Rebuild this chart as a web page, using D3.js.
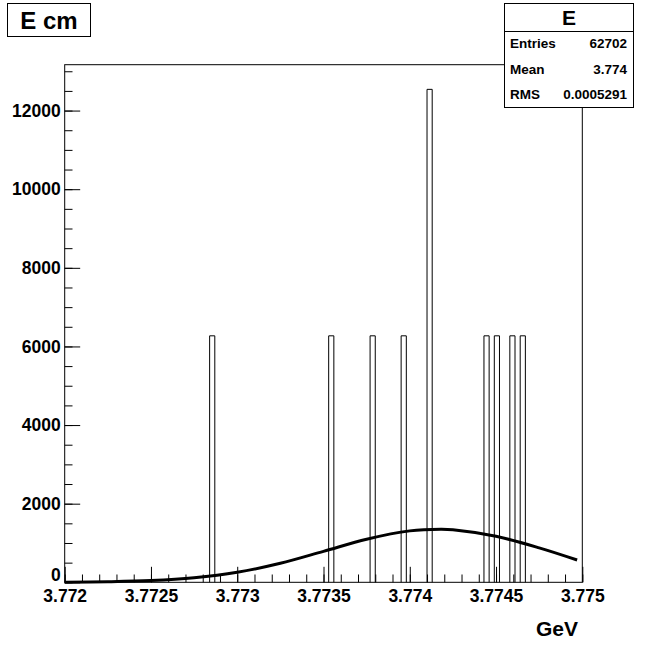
<!DOCTYPE html>
<html>
<head>
<meta charset="utf-8">
<script src="https://cdn.jsdelivr.net/npm/d3@7"></script>
<style>
  html, body { margin: 0; padding: 0; background: #fff; }
  svg { display: block; font-family: "Liberation Sans", Arial, Helvetica, sans-serif; font-weight: bold; }
</style>
</head>
<body>
<svg id="chart" width="647" height="647"></svg>
<script>
// ---- data ----
const binLeftEdges = [3.77284, 3.77353, 3.77377, 3.77395, 3.77410, 3.77443, 3.77449, 3.77458, 3.77464];
const binCounts    = [6270, 6270, 6270, 6270, 12540, 6270, 6270, 6270, 6270];
const binWidth = 0.00003;

const fitX = [3.772, 3.77225, 3.7725, 3.77275, 3.773, 3.77325, 3.7735, 3.77375, 3.774, 3.77418, 3.77425, 3.7745, 3.77475, 3.77497];
const fitY = [4, 15, 44, 115, 254, 483, 787, 1096, 1308, 1350, 1337, 1170, 877, 568];

const xTickValues = [3.772, 3.7725, 3.773, 3.7735, 3.774, 3.7745, 3.775];
const xTickLabels = ["3.772", "3.7725", "3.773", "3.7735", "3.774", "3.7745", "3.775"];
const yTickValues = [0, 2000, 4000, 6000, 8000, 10000, 12000];
const yTickLabels = ["0", "2000", "4000", "6000", "8000", "10000", "12000"];

const histTitle = "E cm";
const statsName = "E";
const statsLabels = ["Entries", "Mean", "RMS"];
const statsValues = ["62702", "3.774", "0.0005291"];
const xAxisTitle = "GeV";

// ---- layout ----
const svg = d3.select("#chart");
const L = 64.7, R = 582.3, T = 64.7, B = 582.3;
const xDomain = [3.772, 3.775];
const yMax = 1.05 * d3.max(binCounts);

const x = d3.scaleLinear().domain(xDomain).range([L, R]);
const y = d3.scaleLinear().domain([0, yMax]).range([B, T]);

// frame
svg.append("rect").attr("x", L).attr("y", T).attr("width", R - L).attr("height", B - T)
  .attr("fill", "none").attr("stroke", "#000").attr("stroke-width", 1);

// histogram bars (outline)
const g = svg.append("g");
binLeftEdges.forEach((e, i) => {
  const x0 = x(e), x1 = x(e + binWidth), y0 = y(0), y1 = y(binCounts[i]);
  g.append("path")
    .attr("d", `M${x0},${y0}V${y1}H${x1}V${y0}`)
    .attr("fill", "none").attr("stroke", "#000").attr("stroke-width", 1);
});

// fit curve
const line = d3.line().x(d => x(d[0])).y(d => y(d[1])).curve(d3.curveCatmullRom.alpha(0.5));
svg.append("path").datum(fitX.map((v, i) => [v, fitY[i]]))
  .attr("d", line).attr("fill", "none").attr("stroke", "#000").attr("stroke-width", 3);

const labelFont = 17.5;

// x axis
const xMinor = d3.range(0, 31).map(i => 3.772 + i * 0.0001);
const xMinorAxis = d3.axisBottom(x).tickValues(xMinor).tickSize(-7.8).tickFormat("");
svg.append("g").attr("transform", `translate(0,${B})`).call(xMinorAxis)
  .call(s => s.select(".domain").remove());
const xMajorAxis = d3.axisBottom(x).tickValues(xTickValues).tickSize(-15.5).tickPadding(16)
  .tickFormat((d, i) => xTickLabels[i]);
svg.append("g").attr("transform", `translate(0,${B})`).call(xMajorAxis)
  .call(s => s.select(".domain").remove())
  .call(s => s.selectAll("text").attr("font-size", labelFont).attr("font-family", "Liberation Sans, Arial, sans-serif")
        .attr("font-weight", "bold").attr("fill", "#000").attr("dy", "0.2em"));

// y axis
const yMinor = d3.range(0, 27).map(i => i * 500).filter(v => v <= yMax);
const yMinorAxis = d3.axisLeft(y).tickValues(yMinor).tickSize(-7.8).tickFormat("");
svg.append("g").attr("transform", `translate(${L},0)`).call(yMinorAxis)
  .call(s => s.select(".domain").remove());
const yMajorAxis = d3.axisLeft(y).tickValues(yTickValues).tickSize(-15.5).tickPadding(4)
  .tickFormat((d, i) => yTickLabels[i]);
svg.append("g").attr("transform", `translate(${L},0)`).call(yMajorAxis)
  .call(s => s.select(".domain").remove())
  .call(s => s.selectAll("text").attr("font-size", labelFont).attr("font-family", "Liberation Sans, Arial, sans-serif")
        .attr("font-weight", "bold").attr("fill", "#000")
        .attr("dy", (d) => d === 0 ? "-0.12em" : "0.32em"));
svg.selectAll(".tick line").attr("stroke", "#000");

// axis title
svg.append("text").attr("x", 578).attr("y", 636).attr("text-anchor", "end")
  .attr("font-size", 21).text(xAxisTitle);

// title box
svg.append("rect").attr("x", 7.5).attr("y", 3.5).attr("width", 83).attr("height", 33)
  .attr("fill", "#fff").attr("stroke", "#000");
svg.append("text").attr("x", 49).attr("y", 28.5).attr("text-anchor", "middle")
  .attr("font-size", 24).text(histTitle);

// stats box
const sx0 = 504.5, sx1 = 633.5, sy0 = 3.5, sy1 = 107.5, sh = 31;
svg.append("rect").attr("x", sx0).attr("y", sy0).attr("width", sx1 - sx0).attr("height", sy1 - sy0)
  .attr("fill", "#fff").attr("stroke", "#000");
svg.append("line").attr("x1", sx0).attr("x2", sx1).attr("y1", sh + 0.5).attr("y2", sh + 0.5).attr("stroke", "#000");
svg.append("text").attr("x", (sx0 + sx1) / 2).attr("y", 25).attr("text-anchor", "middle")
  .attr("font-size", 21).text(statsName);
const rowH = (sy1 - sh) / statsLabels.length;
statsLabels.forEach((lab, i) => {
  const cy = sh + rowH * (i + 0.5);
  svg.append("text").attr("x", 510).attr("y", cy).attr("dy", "0.35em").attr("font-size", 13.5).text(lab);
  svg.append("text").attr("x", 627).attr("y", cy).attr("dy", "0.35em").attr("text-anchor", "end")
    .attr("font-size", 13.5).text(statsValues[i]);
});
</script>
</body>
</html>
